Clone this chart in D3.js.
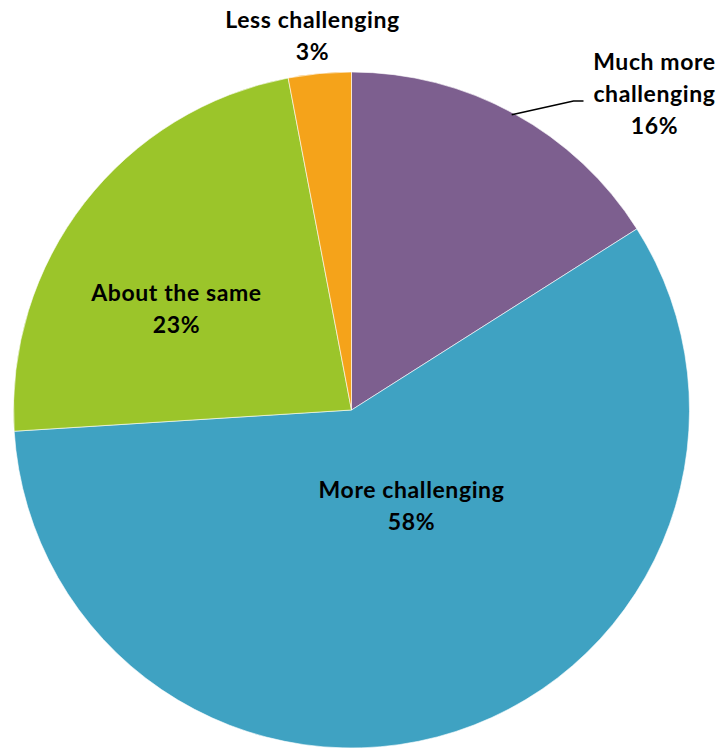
<!DOCTYPE html>
<html>
<head>
<meta charset="utf-8">
<script src="https://cdn.jsdelivr.net/npm/d3@7"></script>
<style>
  html, body { margin: 0; padding: 0; background: #fff; }
  svg { display: block; }
  text { font-family: Lato, "Open Sans", sans-serif; font-weight: 700; fill: #000; letter-spacing: 0.6px; }
</style>
</head>
<body>
<svg id="chart" width="723" height="748"></svg>
<script>
// Survey answers, clockwise from 12 o'clock
const categories = ["Much more challenging", "More challenging", "About the same", "Less challenging"];
const values = [16, 58, 23, 3];
const colors = ["#7D5F8F", "#3FA2C2", "#9BC52A", "#F5A31A"];

// Label lines as shown in the chart (category name may wrap)
const labelLines = [
  ["Much more", "challenging"],
  ["More challenging"],
  ["About the same"],
  ["Less challenging"]
];

const width = 723, height = 748;
const cx = 351.5, cy = 410, radius = 338;
const svg = d3.select("#chart");
const g = svg.append("g").attr("transform", `translate(${cx},${cy})`);

const pie = d3.pie().sort(null).value(d => d.value);
const arcs = pie(categories.map((c, i) => ({ name: c, value: values[i], color: colors[i], lines: labelLines[i] })));
const arc = d3.arc().innerRadius(0).outerRadius(radius);

g.selectAll("path.slice")
  .data(arcs)
  .join("path")
  .attr("class", "slice")
  .attr("d", arc)
  .attr("fill", d => d.data.color)
  .attr("stroke", "#fff")
  .attr("stroke-width", 0.6);

// Label anchors (centre of the first line), relative to the pie centre
const labelPos = [
  { x: 303, y: -348 },
  { x: 60, y: 80 },
  { x: -175, y: -117 },
  { x: -39, y: -390 }
];
const lineH = 32;
const fontSize = 23;

// Leader line from the edge of the first slice to its outside label
const a0 = arcs[0];
const leadAngle = a0.startAngle + 0.497;
const leadR = radius - 2;
const leadStart = [leadR * Math.sin(leadAngle), -leadR * Math.cos(leadAngle)];
g.append("path")
  .attr("d", d3.line()([leadStart, [222, -309], [232, -309]]))
  .attr("fill", "none")
  .attr("stroke", "#000")
  .attr("stroke-width", 1.5);

arcs.forEach((d, i) => {
  const p = labelPos[i];
  const lines = d.data.lines.concat([d.data.value + "%"]);
  const t = g.append("text")
    .attr("text-anchor", "middle")
    .attr("font-size", fontSize);
  lines.forEach((ln, k) => {
    t.append("tspan")
      .attr("x", p.x)
      .attr("y", p.y + k * lineH)
      .attr("dy", "0.35em")
      .text(ln);
  });
});
</script>
</body>
</html>
